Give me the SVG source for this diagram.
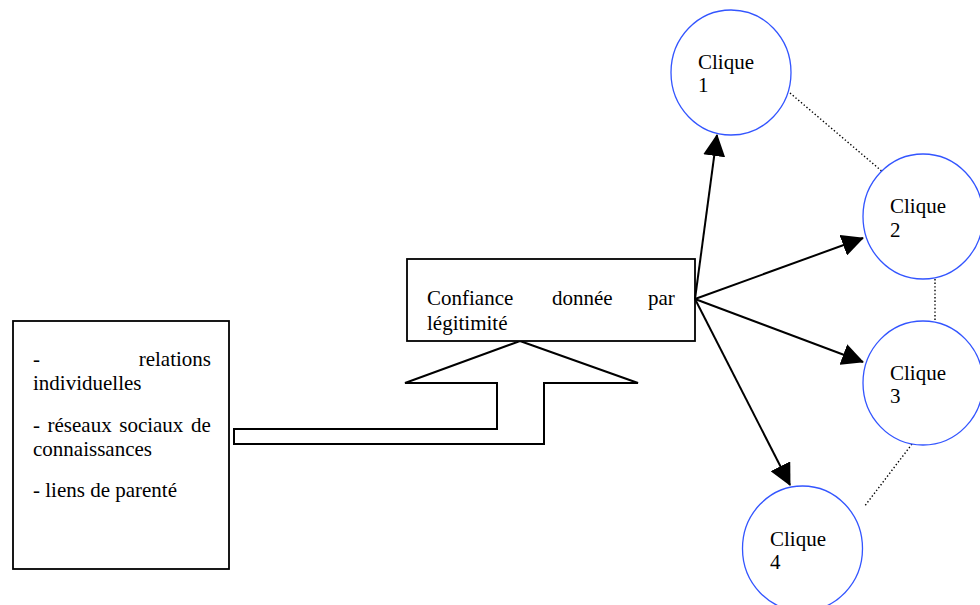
<svg xmlns="http://www.w3.org/2000/svg" width="980" height="605" viewBox="0 0 980 605">
<style>
  .box { fill: #ffffff; stroke: #000000; stroke-width: 1.8; }
  .clique { fill: #ffffff; stroke: #3355ff; stroke-width: 1.3; }
  .t { font-family: 'Liberation Serif', 'Times New Roman', Times, serif; font-size: 21px; fill: #000000; }
  .arrow { stroke: #000000; stroke-width: 2; fill: none; marker-end: url(#head); }
  .dot { stroke: #000000; stroke-width: 1.4; stroke-dasharray: 1.4 2.2; fill: none; }
</style>
<defs>
  <marker id="head" markerUnits="userSpaceOnUse" markerWidth="22" markerHeight="22" viewBox="0 0 22 22" refX="21" refY="11" orient="auto">
    <path d="M0,0 L22,11 L0,22 z" fill="#000000"/>
  </marker>
  <clipPath id="midclip"><rect x="407" y="259" width="288" height="81"/></clipPath>
</defs>
<rect width="980" height="605" fill="#ffffff"/>

<g id="sources">
  <rect class="box" x="13" y="321" width="216" height="248"/>
  <text class="t" x="33" y="366">-</text>
  <text class="t" x="211" y="366" text-anchor="end">relations</text>
  <text class="t" x="33" y="390">individuelles</text>
  <text class="t" x="33" y="432" word-spacing="2.3">- réseaux sociaux de</text>
  <text class="t" x="33" y="456">connaissances</text>
  <text class="t" x="33" y="497">- liens de parenté</text>
</g>

<g id="block-arrow">
  <path d="M520,341 L638,383 L544,383 L544,444 L234,444 L234,429 L497,429 L497,383 L405,383 Z" fill="#ffffff" stroke="#000000" stroke-width="2" stroke-linejoin="miter"/>
</g>

<g id="confiance">
  <rect class="box" x="407" y="259" width="288" height="82"/>
  <g clip-path="url(#midclip)">
    <text class="t" x="427" y="305">Confiance</text>
    <text class="t" x="552" y="305">donnée</text>
    <text class="t" x="648" y="305">par</text>
    <text class="t" x="427" y="330">légitimité</text>
  </g>
</g>

<g id="connectors">
  <line class="arrow" x1="695" y1="299" x2="717" y2="135"/>
  <line class="arrow" x1="695" y1="299" x2="863" y2="238"/>
  <line class="arrow" x1="695" y1="299" x2="863" y2="362"/>
  <line class="arrow" x1="695" y1="299" x2="790" y2="485"/>
  <line class="dot" x1="790" y1="93" x2="884" y2="173"/>
  <line class="dot" x1="935" y1="279" x2="935" y2="321"/>
  <line class="dot" x1="912" y1="444" x2="864" y2="507"/>
</g>

<g id="clique1">
  <ellipse class="clique" cx="731" cy="72.5" rx="60" ry="62.5"/>
  <text class="t" x="698" y="69">Clique</text>
  <text class="t" x="698" y="92">1</text>
</g>
<g id="clique2">
  <ellipse class="clique" cx="923" cy="216.5" rx="60" ry="62.5"/>
  <text class="t" x="890" y="213">Clique</text>
  <text class="t" x="890" y="237">2</text>
</g>
<g id="clique3">
  <ellipse class="clique" cx="923" cy="383" rx="60" ry="62"/>
  <text class="t" x="890" y="380">Clique</text>
  <text class="t" x="890" y="403">3</text>
</g>
<g id="clique4">
  <ellipse class="clique" cx="802.5" cy="548.5" rx="60" ry="62.5"/>
  <text class="t" x="770" y="546">Clique</text>
  <text class="t" x="770" y="569">4</text>
</g>
</svg>
